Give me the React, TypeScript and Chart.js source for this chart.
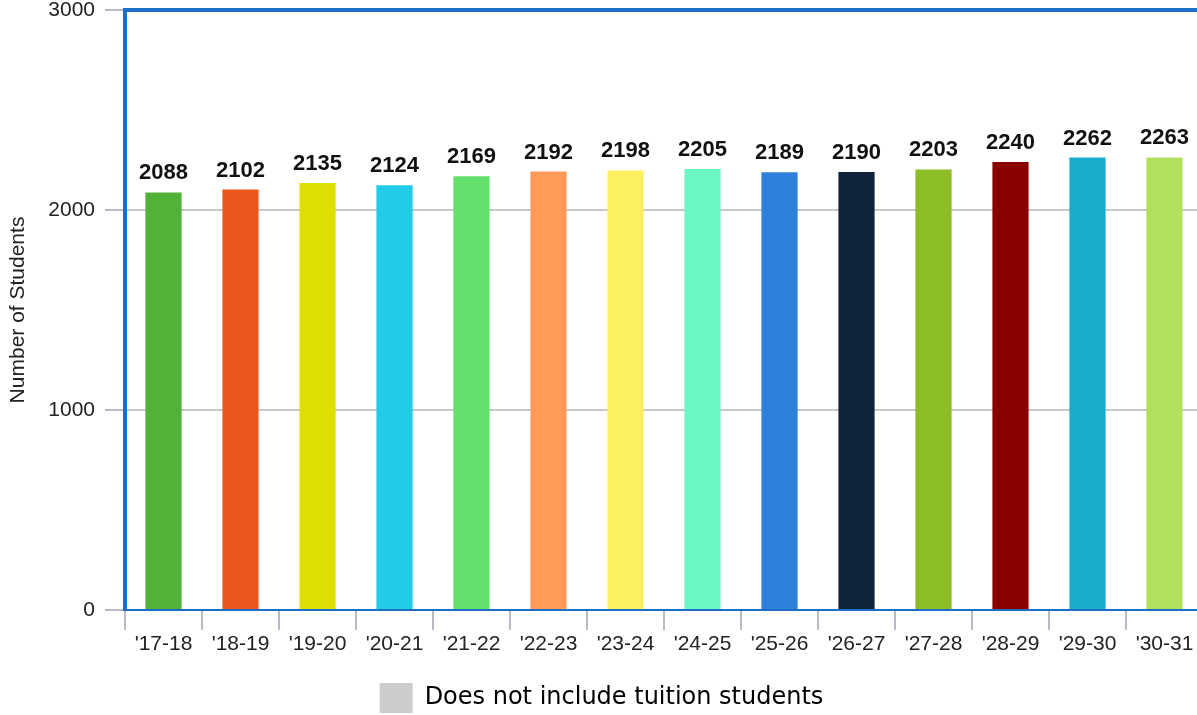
import React, { useEffect, useRef } from "react";
import { Chart, registerables } from "chart.js";

Chart.register(...registerables);

const categories = ["'17-18", "'18-19", "'19-20", "'20-21", "'21-22", "'22-23", "'23-24", "'24-25", "'25-26", "'26-27", "'27-28", "'28-29", "'29-30", "'30-31"];
const students = [2088, 2102, 2135, 2124, 2169, 2192, 2198, 2205, 2189, 2190, 2203, 2240, 2262, 2263];
const barColors = ["#50b236", "#ea561e", "#dde000", "#22cbe6", "#63e06b", "#ff9a58", "#fdf060", "#6cf7c4", "#2f80db", "#0f243b", "#8cbd26", "#8b0000", "#1aaccd", "#b2e05e"];
const yTicks = [0, 1000, 2000, 3000];
const legendText = "Does not include tuition students";

const BLUE = "#1c6fc4";
const GRID = "#c8c8c8";
const TICK = "#b8bcc4";

const valueLabels = {
  id: "valueLabels",
  afterDatasetsDraw(chart: any) {
    const ctx = chart.ctx;
    const meta = chart.getDatasetMeta(0);
    ctx.save();
    ctx.font = "bold 22px 'Liberation Sans', Arial, sans-serif";
    ctx.fillStyle = "#111";
    ctx.textAlign = "center";
    ctx.textBaseline = "bottom";
    meta.data.forEach((el: any, i: number) => {
      ctx.fillText(String(chart.data.datasets[0].data[i]), el.x, el.y - 8);
    });
    ctx.restore();
  },
};

export default function App() {
  const ref = useRef<HTMLCanvasElement | null>(null);
  useEffect(() => {
    if (!ref.current) return;
    const chart = new Chart(ref.current, {
      type: "bar",
      data: {
        labels: categories,
        datasets: [
          {
            label: legendText,
            data: students,
            backgroundColor: barColors,
            borderWidth: 0,
            categoryPercentage: 1,
            barPercentage: 0.47,
          },
        ],
      },
      options: {
        animation: false,
        responsive: true,
        maintainAspectRatio: false,
        layout: { padding: { top: 10, right: 2, left: 0, bottom: 0 } },
        plugins: {
          tooltip: { enabled: false },
          legend: {
            position: "bottom",
            labels: {
              boxWidth: 33,
              boxHeight: 30,
              padding: 10,
              color: "#333",
              font: { family: "'DejaVu Sans', sans-serif", size: 24 },
              generateLabels: () => [
                { text: legendText, fillStyle: "#cccccc", strokeStyle: "#cccccc", lineWidth: 0, hidden: false, datasetIndex: 0 } as any,
              ],
            },
          },
        },
        scales: {
          x: {
            offset: true,
            afterFit: (s: any) => { s.height = 63; s.paddingLeft = 0; s.paddingRight = 0; },
            grid: { display: true, drawOnChartArea: false, drawTicks: true, tickLength: 20, offset: true, color: TICK, lineWidth: 2 },
            border: { display: true, color: BLUE, width: 2 },
            ticks: { color: "#222", padding: 2, font: { family: "'Liberation Sans', Arial, sans-serif", size: 21 }, maxRotation: 0, autoSkip: false },
          },
          y: {
            min: 0,
            max: 3000,
            afterFit: (s: any) => { s.width = 125; s.paddingTop = 0; s.paddingBottom = 0; },
            afterBuildTicks: (s: any) => { s.ticks = yTicks.map((v) => ({ value: v })); },
            grid: {
              drawTicks: true,
              tickLength: 20,
              tickColor: TICK,
              tickWidth: 2,
              color: (c: any) => (c.tick && c.tick.value === 3000 ? BLUE : c.tick && c.tick.value === 0 ? "rgba(0,0,0,0)" : GRID),
              lineWidth: (c: any) => (c.tick && c.tick.value === 3000 ? 4 : 2),
            },
            border: { display: true, color: BLUE, width: 4 },
            ticks: {
              color: "#222",
              padding: 10,
              font: { family: "'Liberation Sans', Arial, sans-serif", size: 21 },
              callback: (v: any) => String(v),
            },
            title: {
              display: true,
              text: "Number of Students",
              color: "#222",
              font: { family: "'Liberation Sans', Arial, sans-serif", size: 21 },
              padding: { top: 6, bottom: 0 },
            },
          },
        },
      },
      plugins: [valueLabels],
    });
    return () => chart.destroy();
  }, []);

  return (
    <div style={{ position: "fixed", left: 0, top: 0, width: 1197, height: 715, overflow: "hidden", background: "#fff" }}>
      <div style={{ position: "relative", width: 1205, height: 723 }}>
        <canvas ref={ref} />
      </div>
    </div>
  );
}
